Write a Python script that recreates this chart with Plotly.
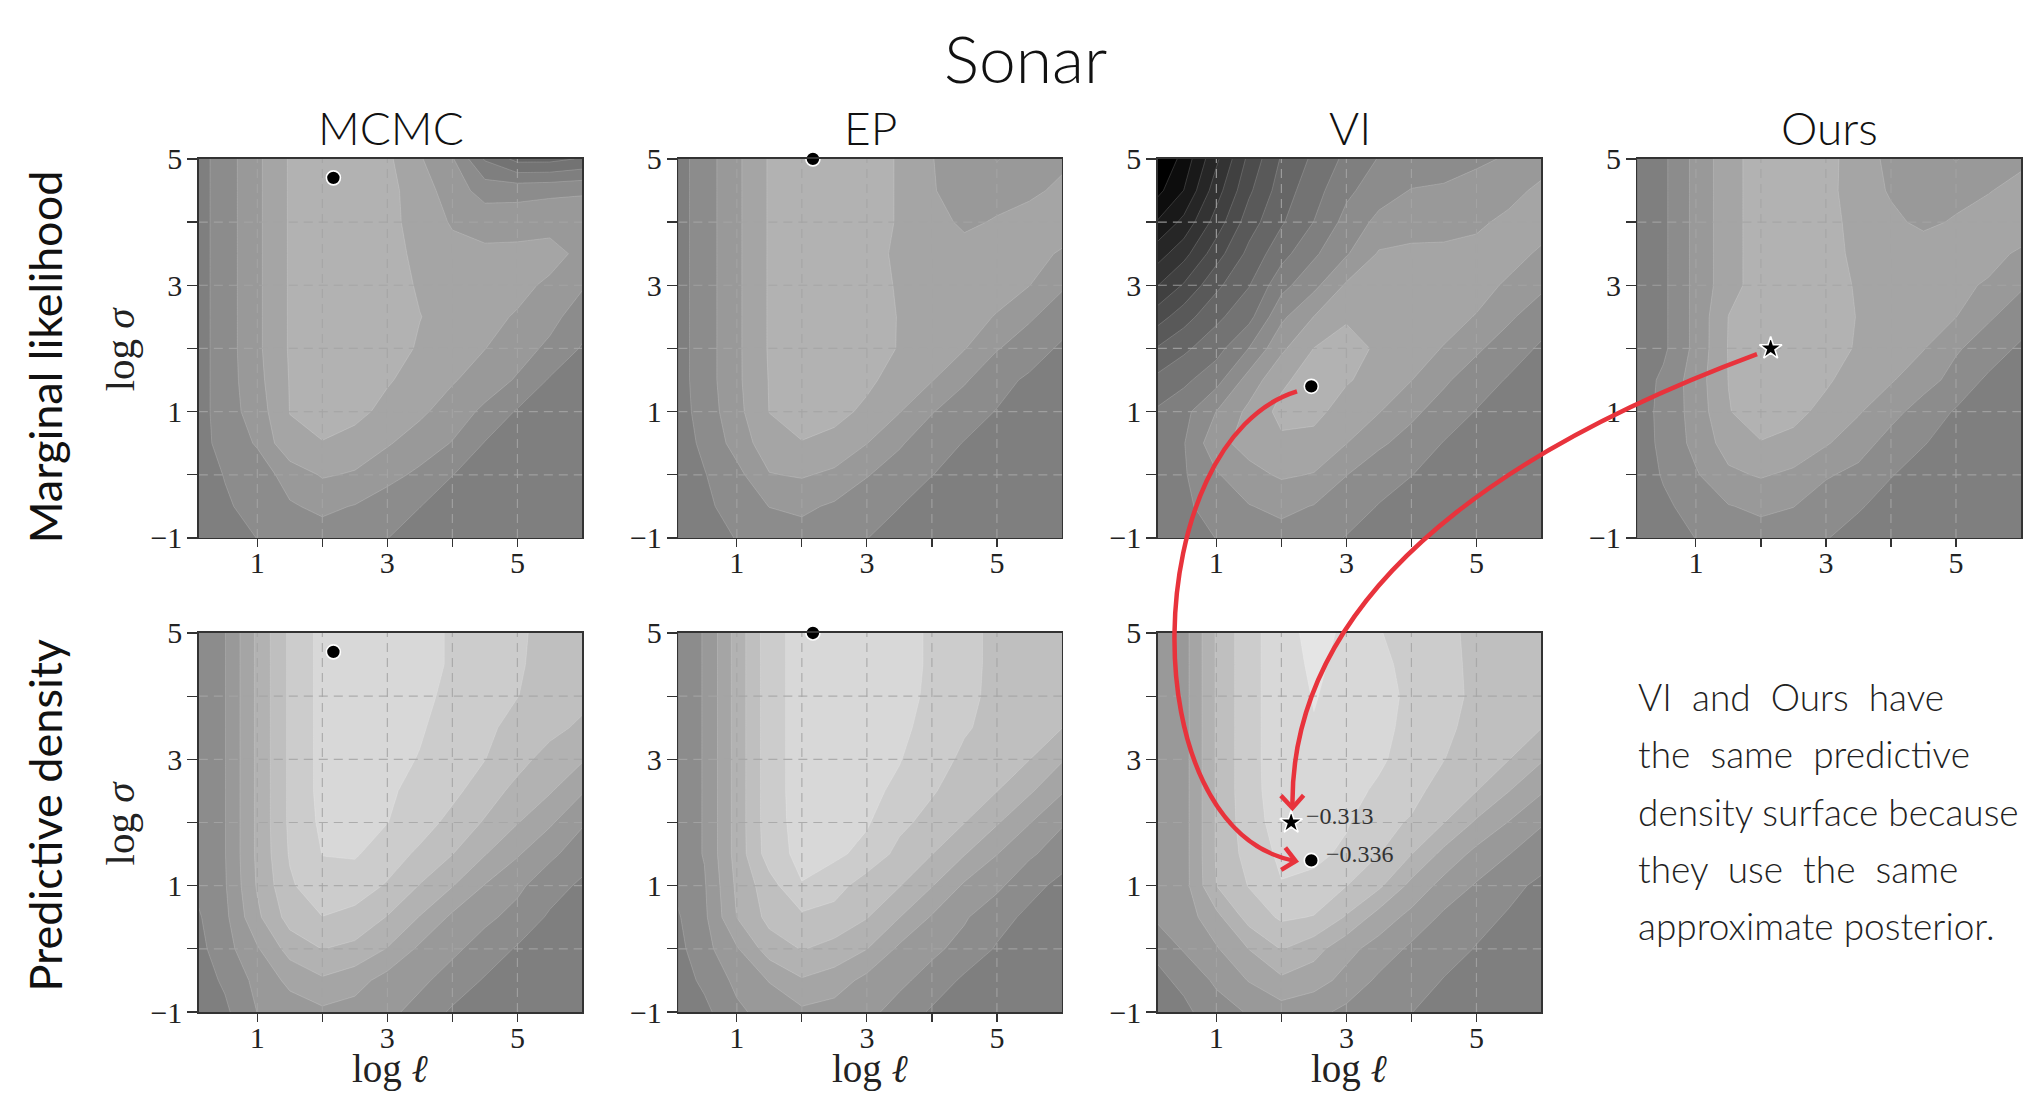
import math
import plotly.graph_objects as go

W, H = 2023, 1093

# ------------------------------------------------------------------ data
LOG_ELL = [0, 0.5, 1, 1.5, 2, 2.5, 3, 3.5, 4, 4.5, 5, 5.5, 6]
LOG_SIGMA = [-1, -0.5, 0, 0.5, 1, 1.5, 2, 2.5, 3, 3.5, 4, 4.5, 5]

# surfaces (contour level index), rows listed from log sigma = 5 (top) down to -1
MCMC_ML = [
    [9.9, 11.0, 12.3, 13.6, 14.2, 14.2, 13.7, 12.6, 11.6, 9.4, 8.2, 8.2, 8.6],
    [9.9, 11.0, 12.3, 13.6, 14.2, 14.2, 13.8, 13.0, 12.0, 11.1, 11.2, 11.3, 11.4],
    [9.9, 11.0, 12.3, 13.6, 14.2, 14.2, 13.8, 13.1, 12.4, 12.1, 12.0, 12.1, 12.0],
    [9.9, 11.0, 12.3, 13.6, 14.2, 14.2, 13.8, 13.3, 12.8, 12.7, 12.8, 12.9, 12.2],
    [9.9, 11.0, 12.3, 13.6, 14.2, 14.2, 13.9, 13.4, 13.2, 13.0, 12.8, 12.3, 11.6],
    [9.9, 11.0, 12.3, 13.6, 14.2, 14.2, 14.0, 13.52, 13.2, 12.8, 12.4, 11.8, 11.0],
    [9.9, 11.0, 12.3, 13.6, 14.2, 14.1, 13.9, 13.4, 12.9, 12.52, 11.9, 11.3, 10.4],
    [9.9, 11.0, 12.2, 13.55, 14.1, 14.0, 13.6, 13.1, 12.6, 12.0, 11.4, 10.4, 9.8],
    [9.9, 11.0, 12.0, 13.52, 14.0, 13.8, 13.2, 12.7, 12.0, 11.3, 10.4, 9.8, 9.7],
    [9.9, 10.9, 11.6, 13.3, 13.45, 13.1, 12.6, 12.0, 11.45, 10.45, 9.8, 9.7, 9.6],
    [9.8, 10.55, 11.0, 11.9, 12.6, 12.4, 11.8, 11.3, 10.52, 10.0, 9.8, 9.7, 9.6],
    [9.7, 10.35, 10.9, 11.4, 11.7, 11.45, 11.0, 10.52, 10.0, 9.8, 9.7, 9.6, 9.6],
    [9.6, 10.0, 10.52, 10.9, 11.1, 10.9, 10.52, 10.0, 9.8, 9.7, 9.6, 9.6, 9.6],
]
EP_ML = [
    [9.9, 11.0, 12.3, 13.6, 14.2, 14.2, 14.0, 13.4, 12.52, 12.2, 11.45, 12.0, 12.3],
    [9.9, 11.0, 12.3, 13.6, 14.2, 14.2, 14.0, 13.4, 12.55, 12.2, 12.1, 12.3, 12.7],
    [9.9, 11.0, 12.3, 13.6, 14.2, 14.2, 14.0, 13.4, 12.9, 12.3, 12.6, 12.9, 13.0],
    [9.9, 11.0, 12.3, 13.6, 14.2, 14.2, 13.9, 13.3, 13.1, 12.9, 12.9, 12.8, 12.4],
    [9.9, 11.0, 12.3, 13.6, 14.2, 14.2, 13.9, 13.4, 13.2, 13.0, 12.8, 12.52, 11.6],
    [9.9, 11.0, 12.3, 13.6, 14.2, 14.2, 14.0, 13.45, 13.1, 12.8, 12.45, 11.6, 11.1],
    [9.9, 11.0, 12.3, 13.6, 14.2, 14.1, 13.9, 13.45, 13.0, 12.55, 11.55, 11.1, 10.3],
    [9.9, 11.0, 12.3, 13.55, 14.1, 14.0, 13.7, 13.1, 12.55, 11.6, 10.9, 10.3, 9.9],
    [9.9, 10.9, 12.2, 13.52, 14.0, 13.8, 13.3, 12.55, 11.55, 11.0, 10.45, 10.0, 9.8],
    [9.9, 10.7, 11.9, 13.1, 13.45, 13.2, 12.52, 11.6, 11.0, 10.45, 10.0, 9.8, 9.7],
    [9.8, 10.45, 11.2, 12.45, 12.6, 12.3, 11.55, 11.1, 10.52, 10.1, 9.8, 9.7, 9.6],
    [9.7, 10.3, 10.9, 11.52, 11.7, 11.35, 11.0, 10.52, 10.0, 9.8, 9.7, 9.6, 9.6],
    [9.6, 10.0, 10.55, 10.9, 11.1, 10.9, 10.52, 10.1, 9.8, 9.7, 9.6, 9.6, 9.6],
]
VI_ML = [
    [-1.0, 0.89, 3.3, 5.76, 7.6, 8.7, 9.74, 10.56, 10.82, 11.07, 11.33, 11.6, 12.1],
    [-0.1, 1.52, 4.06, 6.31, 7.99, 9.1, 10.28, 11.04, 11.55, 11.63, 11.87, 12.22, 12.7],
    [1.3, 2.79, 4.94, 7.03, 8.38, 9.52, 10.84, 11.78, 12.1, 12.16, 12.35, 12.7, 12.9],
    [2.8, 4.15, 6.06, 7.78, 9.14, 10.33, 11.4, 12.6, 12.7, 12.7, 12.75, 12.85, 12.35],
    [4.2, 5.61, 7.27, 8.45, 10.17, 11.23, 12.64, 13.1, 13.0, 12.9, 12.85, 12.35, 11.7],
    [5.8, 7.08, 8.27, 9.19, 11.28, 12.52, 13.35, 13.3, 13.0, 12.85, 12.45, 11.65, 10.95],
    [7.4, 8.3, 9.13, 10.52, 12.3, 13.52, 14.0, 13.3, 12.9, 12.45, 11.65, 11.0, 10.35],
    [8.6, 9.27, 10.15, 11.92, 13.3, 14.0, 13.6, 13.1, 12.52, 11.65, 11.0, 10.4, 9.95],
    [9.52, 10.2, 11.52, 12.75, 13.8, 13.8, 13.05, 12.55, 11.7, 11.1, 10.45, 10.0, 9.8],
    [9.9, 10.45, 12.2, 12.85, 13.3, 13.15, 12.52, 11.65, 11.15, 10.45, 10.05, 9.85, 9.7],
    [9.9, 10.4, 11.4, 12.2, 12.63, 12.45, 11.52, 10.95, 10.52, 10.1, 9.9, 9.75, 9.65],
    [9.9, 10.3, 10.95, 11.45, 11.77, 11.45, 11.0, 10.45, 10.1, 9.9, 9.8, 9.7, 9.6],
    [9.8, 10.1, 10.52, 10.9, 11.1, 10.9, 10.45, 10.1, 9.9, 9.8, 9.7, 9.65, 9.6],
]
OURS_ML = [
    [9.9, 10.3, 11.8, 13.1, 14.0, 14.2, 13.9, 12.9, 12.3, 12.0, 11.45, 12.0, 12.3],
    [9.9, 10.3, 11.8, 13.1, 14.0, 14.2, 13.8, 13.0, 12.4, 12.1, 12.2, 12.45, 12.8],
    [9.9, 10.3, 11.8, 13.1, 14.0, 14.2, 13.8, 13.2, 12.7, 12.3, 12.6, 12.9, 13.1],
    [9.9, 10.3, 11.8, 13.1, 14.0, 14.2, 13.8, 13.3, 13.1, 13.0, 12.9, 12.8, 12.35],
    [9.9, 10.3, 11.8, 13.1, 14.0, 14.2, 13.9, 13.4, 13.2, 13.0, 12.7, 12.4, 11.6],
    [9.9, 10.3, 11.8, 13.52, 14.1, 14.2, 14.0, 13.45, 13.1, 12.8, 12.52, 11.6, 11.1],
    [9.9, 10.3, 11.8, 13.55, 14.1, 14.1, 13.9, 13.4, 12.9, 12.55, 11.6, 11.1, 10.3],
    [9.8, 10.7, 12.0, 13.52, 14.1, 14.0, 13.65, 13.0, 12.6, 11.85, 11.2, 10.3, 9.9],
    [9.8, 10.8, 11.9, 13.45, 14.0, 13.8, 13.2, 12.6, 11.8, 11.1, 10.4, 10.0, 9.8],
    [9.8, 10.75, 11.8, 12.95, 13.45, 13.2, 12.6, 11.9, 11.15, 10.55, 10.1, 9.8, 9.7],
    [9.7, 10.6, 11.4, 12.3, 12.6, 12.3, 11.6, 11.25, 10.55, 10.1, 9.8, 9.7, 9.6],
    [9.6, 10.3, 10.9, 11.45, 11.7, 11.52, 11.0, 10.6, 10.1, 9.8, 9.7, 9.6, 9.6],
    [9.6, 10.0, 10.52, 10.9, 11.1, 10.9, 10.55, 10.1, 9.8, 9.7, 9.6, 9.6, 9.6],
]
MCMC_PD = [
    [10.9, 11.45, 13.7, 15.7, 16.8, 17.0, 17.0, 16.8, 16.4, 16.0, 15.6, 15.3, 15.2],
    [10.9, 11.45, 13.7, 15.7, 16.8, 17.0, 17.0, 16.8, 16.4, 16.0, 15.6, 15.2, 15.0],
    [10.9, 11.45, 13.7, 15.7, 16.8, 17.0, 16.95, 16.7, 16.3, 15.9, 15.52, 15.1, 14.8],
    [10.9, 11.45, 13.7, 15.7, 16.8, 17.0, 16.9, 16.6, 16.1, 15.7, 15.2, 14.8, 14.3],
    [10.9, 11.45, 13.7, 15.7, 16.8, 17.0, 16.8, 16.45, 16.0, 15.52, 14.85, 14.1, 13.6],
    [10.9, 11.45, 13.7, 15.7, 16.8, 16.95, 16.65, 16.2, 15.75, 15.0, 14.2, 13.6, 12.6],
    [10.9, 11.45, 13.7, 15.7, 16.7, 16.85, 16.52, 15.95, 15.2, 14.4, 13.55, 12.65, 11.6],
    [10.9, 11.45, 13.7, 15.6, 16.52, 16.6, 16.0, 15.3, 14.52, 13.55, 12.6, 11.7, 11.0],
    [10.52, 11.4, 13.6, 15.35, 16.2, 16.0, 15.4, 14.45, 13.55, 12.45, 11.7, 10.95, 10.3],
    [10.2, 11.25, 13.3, 14.9, 15.48, 15.2, 14.45, 13.45, 12.3, 11.7, 11.2, 10.35, 9.9],
    [10.0, 11.1, 12.4, 13.9, 14.52, 14.25, 13.45, 12.3, 11.7, 11.1, 10.4, 10.0, 9.8],
    [9.9, 10.65, 11.8, 12.75, 13.35, 12.9, 12.1, 11.7, 11.1, 10.4, 10.0, 9.8, 9.7],
    [9.7, 10.3, 11.52, 12.0, 12.3, 12.1, 11.75, 11.15, 10.35, 9.9, 9.7, 9.6, 9.6],
]
EP_PD = [
    [10.9, 11.55, 13.9, 16.1, 16.9, 17.0, 17.0, 16.9, 16.35, 15.75, 15.3, 15.2, 15.1],
    [10.9, 11.55, 13.9, 16.1, 16.9, 17.0, 17.0, 16.9, 16.35, 15.75, 15.3, 15.15, 15.05],
    [10.9, 11.55, 13.9, 16.1, 16.9, 17.0, 16.95, 16.85, 16.3, 15.75, 15.25, 15.0, 14.8],
    [10.9, 11.55, 13.9, 16.1, 16.9, 17.0, 16.9, 16.7, 16.2, 15.6, 15.2, 14.85, 14.52],
    [10.9, 11.55, 13.9, 16.1, 16.9, 17.0, 16.85, 16.55, 15.95, 15.3, 14.85, 14.52, 13.6],
    [10.9, 11.55, 13.9, 16.1, 16.9, 16.95, 16.75, 16.3, 15.6, 15.0, 14.52, 13.65, 12.6],
    [10.9, 11.55, 13.9, 16.1, 16.85, 16.85, 16.6, 15.75, 15.15, 14.52, 13.6, 12.55, 11.6],
    [10.9, 11.55, 13.9, 16.0, 16.8, 16.7, 16.2, 15.2, 14.52, 13.55, 12.52, 11.65, 11.0],
    [10.52, 11.4, 13.7, 15.1, 16.45, 15.9, 15.0, 14.55, 13.55, 12.35, 11.7, 10.85, 10.2],
    [10.2, 11.3, 13.52, 14.8, 15.3, 15.1, 14.55, 13.52, 12.4, 11.6, 10.9, 10.25, 9.9],
    [10.0, 11.15, 12.4, 14.0, 14.55, 14.2, 13.52, 12.3, 11.7, 11.2, 10.4, 10.0, 9.8],
    [9.9, 10.7, 11.75, 12.55, 13.4, 13.0, 12.2, 11.7, 11.15, 10.3, 9.95, 9.8, 9.7],
    [9.7, 10.25, 11.3, 11.9, 12.3, 12.1, 11.75, 11.15, 10.35, 9.9, 9.7, 9.6, 9.6],
]
VI_PD = [
    [11.9, 12.1, 14.6, 16.2, 17.0, 17.9, 17.3, 16.55, 16.15, 15.65, 15.35, 15.2, 15.1],
    [11.9, 12.1, 14.6, 16.2, 17.0, 17.7, 17.2, 16.75, 16.2, 15.7, 15.35, 15.2, 15.1],
    [11.9, 12.1, 14.6, 16.2, 17.0, 17.55, 17.2, 16.85, 16.3, 15.75, 15.35, 15.2, 15.1],
    [11.9, 12.1, 14.6, 16.2, 17.0, 17.45, 17.2, 16.8, 16.2, 15.7, 15.2, 14.85, 14.52],
    [11.9, 12.1, 14.6, 16.2, 17.0, 17.2, 17.0, 16.65, 16.1, 15.52, 15.0, 14.52, 13.6],
    [11.9, 12.1, 14.6, 16.2, 16.95, 17.1, 16.8, 16.35, 15.8, 15.1, 14.52, 13.52, 12.6],
    [11.9, 12.1, 14.6, 16.1, 16.9, 16.95, 16.6, 15.8, 15.4, 14.52, 13.35, 12.45, 11.6],
    [11.9, 12.1, 14.6, 15.9, 16.7, 16.75, 16.3, 15.52, 14.52, 13.2, 12.2, 11.52, 10.9],
    [11.7, 12.1, 14.5, 15.55, 16.45, 16.2, 15.52, 14.7, 13.2, 12.15, 11.4, 10.75, 10.3],
    [11.5, 11.95, 13.2, 14.9, 15.65, 15.45, 14.4, 13.05, 12.2, 11.3, 10.8, 10.4, 10.0],
    [10.6, 11.6, 12.4, 13.52, 14.55, 13.9, 12.8, 12.1, 11.3, 10.9, 10.45, 10.1, 9.8],
    [10.2, 10.7, 11.7, 12.55, 13.3, 12.9, 12.2, 11.3, 11.0, 10.45, 10.0, 9.8, 9.7],
    [9.8, 10.3, 11.0, 11.6, 12.05, 11.8, 11.25, 10.8, 10.52, 10.1, 9.8, 9.7, 9.6],
]

METHODS = ["MCMC", "EP", "VI", "Ours"]
ROW_NAMES = ["Marginal likelihood", "Predictive density"]

# optimum hyperparameters (log ell, log sigma)
MCMC_OPT = (2.17, 4.70)
EP_OPT = (2.17, 5.00)
VI_OPT = (2.46, 1.40)
OURS_OPT = (2.15, 2.00)
PD_AT_OURS = "\u22120.313"
PD_AT_VI = "\u22120.336"

X_TICKS = [1, 2, 3, 4, 5]
X_TICKTEXT = ["1", "", "3", "", "5"]
Y_TICKS = [-1, 0, 1, 2, 3, 4, 5]
Y_TICKTEXT = ["\u22121", "", "1", "", "3", "", "5"]
X_RANGE = [0.1, 6.0]
Y_RANGE = [-1, 5]

NOTE_LINES = [
    "VI\u00a0\u00a0and\u00a0\u00a0Ours\u00a0\u00a0have",
    "the\u00a0\u00a0same\u00a0\u00a0predictive",
    "density surface because",
    "they\u00a0\u00a0use\u00a0\u00a0the\u00a0\u00a0same",
    "approximate posterior.",
]

# ------------------------------------------------------------------ layout geometry (screen px)
COL_LEFT = [199, 679, 1159, 1639]
ROW_TOP = [156, 635]
PW, PH = 384, 383

# the page capture maps layout y to screen y as  Y = Y_OFF + Y_SCALE * y
Y_OFF, Y_SCALE = 12.6, 0.979

RED = "#e8333c"
GRID = "rgba(165,165,165,0.85)"
SERIF = "Liberation Serif, DejaVu Serif, serif"
SANS = "Lato, Open Sans, sans-serif"

# band k -> gray 229*k/18 (bands 0..18)
GRAYSCALE = [[0.0, "rgb(0,0,0)"], [1.0, "rgb(229,229,229)"]]

panels = [
    (MCMC_ML, 0, 0, MCMC_OPT, "circle"),
    (EP_ML, 1, 0, EP_OPT, "circle"),
    (VI_ML, 2, 0, VI_OPT, "circle"),
    (OURS_ML, 3, 0, OURS_OPT, "star"),
    (MCMC_PD, 0, 1, MCMC_OPT, "circle"),
    (EP_PD, 1, 1, EP_OPT, "circle"),
    (VI_PD, 2, 1, None, None),
]


def py(Y):
    """paper y for a screen y"""
    return 1 - ((Y - Y_OFF) / Y_SCALE) / H


def pp(X, Y):
    return X / W, py(Y)


def data2screen(col, row, x, y):
    X = COL_LEFT[col] + (x - X_RANGE[0]) / (X_RANGE[1] - X_RANGE[0]) * PW
    Y = ROW_TOP[row] + (Y_RANGE[1] - y) / (Y_RANGE[1] - Y_RANGE[0]) * PH
    return X, Y


fig = go.Figure()
layout = {}
annotations = []

for i, (field, c, r, opt, sym) in enumerate(panels, start=1):
    xr = "x" if i == 1 else f"x{i}"
    yr = "y" if i == 1 else f"y{i}"
    fig.add_trace(go.Contour(
        x=LOG_ELL, y=LOG_SIGMA, z=field[::-1],
        contours=dict(start=0.5, end=17.5, size=1, coloring="fill"),
        colorscale=GRAYSCALE, showscale=False,
        line=dict(width=0.6, color="rgba(255,255,255,0.28)", smoothing=0),
        hoverinfo="skip", xaxis=xr, yaxis=yr,
    ))
    # dashed grid drawn above the filled contours
    gx, gy = [], []
    for v in X_TICKS:
        gx += [v, v, None]
        gy += [Y_RANGE[0], Y_RANGE[1], None]
    for v in Y_TICKS[1:-1]:
        gx += [X_RANGE[0], X_RANGE[1], None]
        gy += [v, v, None]
    fig.add_trace(go.Scatter(
        x=gx, y=gy, mode="lines", hoverinfo="skip", showlegend=False,
        line=dict(color=GRID, width=1.2, dash="9px,6px"),
        xaxis=xr, yaxis=yr,
    ))
    if opt is not None:
        fig.add_trace(go.Scatter(
            x=[opt[0]], y=[opt[1]], mode="markers", showlegend=False, hoverinfo="skip",
            cliponaxis=False,
            marker=dict(symbol=sym, size=14 if sym == "circle" else 17, color="black",
                        line=dict(color="white", width=1.6)),
            xaxis=xr, yaxis=yr,
        ))
    x0p, x1p = COL_LEFT[c] / W, min(1.0, (COL_LEFT[c] + PW) / W)
    y1p, y0p = py(ROW_TOP[r]), py(ROW_TOP[r] + PH)
    axis_common = dict(
        showline=True, mirror=True, linecolor="#333", linewidth=1.5,
        ticks="outside", tickwidth=1.2, tickcolor="#333",
        showgrid=False, zeroline=False, fixedrange=True,
        tickfont=dict(family=SERIF, size=30, color="#222"),
    )
    layout["xaxis" if i == 1 else f"xaxis{i}"] = dict(
        axis_common, domain=[x0p, x1p], range=X_RANGE, anchor=yr, ticklen=8,
        ticklabelstandoff=-10,
        tickmode="array", tickvals=X_TICKS, ticktext=X_TICKTEXT,
    )
    layout["yaxis" if i == 1 else f"yaxis{i}"] = dict(
        axis_common, domain=[y0p, y1p], range=Y_RANGE, anchor=xr, ticklen=10,
        ticklabelstandoff=-1,
        tickmode="array", tickvals=Y_TICKS, ticktext=Y_TICKTEXT,
    )

# VI predictive-density panel: both optima with their values
vi_pd_x, vi_pd_y = "x7", "y7"
fig.add_trace(go.Scatter(
    x=[OURS_OPT[0]], y=[OURS_OPT[1]], mode="markers", showlegend=False, hoverinfo="skip",
    marker=dict(symbol="star", size=17, color="black", line=dict(color="white", width=1.6)),
    xaxis=vi_pd_x, yaxis=vi_pd_y,
))
fig.add_trace(go.Scatter(
    x=[VI_OPT[0]], y=[VI_OPT[1]], mode="markers", showlegend=False, hoverinfo="skip",
    marker=dict(symbol="circle", size=14, color="black", line=dict(color="white", width=1.6)),
    xaxis=vi_pd_x, yaxis=vi_pd_y,
))
annotations.append(dict(x=OURS_OPT[0] + 0.2, y=OURS_OPT[1] + 0.1, xref=vi_pd_x, yref=vi_pd_y,
                        text=PD_AT_OURS, showarrow=False, xanchor="left", yanchor="middle",
                        font=dict(family=SERIF, size=24, color="#333")))
annotations.append(dict(x=VI_OPT[0] + 0.2, y=VI_OPT[1] + 0.1, xref=vi_pd_x, yref=vi_pd_y,
                        text=PD_AT_VI, showarrow=False, xanchor="left", yanchor="middle",
                        font=dict(family=SERIF, size=24, color="#333")))

# ------------------------------------------------------------------ texts
annotations.append(dict(x=1027 / W, y=py(54), xref="paper", yref="paper", text="Sonar",
                        showarrow=False, xanchor="center", yanchor="middle",
                        font=dict(family=SANS, size=66, color="#111", weight=300)))
for c, name in enumerate(METHODS):
    annotations.append(dict(x=(COL_LEFT[c] + PW / 2) / W, y=py(124), xref="paper", yref="paper",
                            text=name, showarrow=False, xanchor="center", yanchor="middle",
                            font=dict(family=SANS, size=46, color="#111", weight=300)))
for r, name in enumerate(ROW_NAMES):
    cy = ROW_TOP[r] + PH / 2 + (8 if r == 0 else -8)
    annotations.append(dict(x=45 / W, y=py(cy), xref="paper", yref="paper",
                            text=name, showarrow=False, textangle=-90,
                            xanchor="center", yanchor="middle",
                            font=dict(family=SANS, size=45, color="#111")))
    annotations.append(dict(x=121 / W, y=py(ROW_TOP[r] + PH / 2), xref="paper", yref="paper",
                            text="log <i>\u03c3</i>", showarrow=False, textangle=-90,
                            xanchor="center", yanchor="middle",
                            font=dict(family=SERIF, size=41, color="#222")))
for c in range(3):
    annotations.append(dict(x=(COL_LEFT[c] + PW / 2) / W, y=py(1076), xref="paper", yref="paper",
                            text="log <i>\u2113</i>", showarrow=False,
                            xanchor="center", yanchor="middle",
                            font=dict(family=SERIF, size=39, color="#222")))
for k, line in enumerate(NOTE_LINES):
    annotations.append(dict(x=1638 / W, y=py(699 + 58 * k), xref="paper", yref="paper",
                            text=line, showarrow=False, xanchor="left", yanchor="middle",
                            font=dict(family=SANS, size=37, color="#222", weight=300)))

# ------------------------------------------------------------------ red arrows
shapes = []


def bezier_arrow(p0, p1, p2, p3):
    pts = [pp(*p) for p in (p0, p1, p2, p3)]
    path = "M {:.5f},{:.5f} C {:.5f},{:.5f} {:.5f},{:.5f} {:.5f},{:.5f}".format(
        *pts[0], *pts[1], *pts[2], *pts[3])
    shapes.append(dict(type="path", xref="paper", yref="paper", path=path, layer="above",
                       line=dict(color=RED, width=4.5)))
    dx, dy = p3[0] - p2[0], p3[1] - p2[1]
    n = math.hypot(dx, dy)
    dx, dy = dx / n, dy / n
    L, ang = 17, math.radians(42)
    arms = []
    for s in (1, -1):
        ca, sa = math.cos(s * ang), math.sin(s * ang)
        rx, ry = dx * ca - dy * sa, dx * sa + dy * ca
        arms.append((p3[0] - L * rx, p3[1] - L * ry))
    a1, tip, a2 = pp(*arms[0]), pp(*p3), pp(*arms[1])
    shapes.append(dict(type="path", xref="paper", yref="paper", layer="above",
                       path="M {:.5f},{:.5f} L {:.5f},{:.5f} L {:.5f},{:.5f}".format(*a1, *tip, *a2),
                       line=dict(color=RED, width=4.5)))


# VI (marginal likelihood optimum) -> VI predictive density
a_start = data2screen(2, 0, VI_OPT[0] - 0.22, VI_OPT[1] - 0.08)
a_end = data2screen(2, 1, VI_OPT[0] - 0.24, VI_OPT[1] - 0.01)
bezier_arrow(a_start, (1140, 440), (1130, 835), a_end)
# Ours optimum -> VI predictive density (star)
b_start = data2screen(3, 0, OURS_OPT[0] - 0.21, OURS_OPT[1] - 0.09)
b_end = data2screen(2, 1, OURS_OPT[0] + 0.02, OURS_OPT[1] + 0.23)
bezier_arrow(b_start, (1580, 420), (1290, 560), b_end)

fig.update_layout(
    width=W, height=H, margin=dict(l=0, r=0, t=0, b=0), autosize=False,
    paper_bgcolor="white", plot_bgcolor="white",
    showlegend=False, annotations=annotations, shapes=shapes,
    **layout,
)

# pin the figure to the window's top-left corner (no page margins / scrollbars)
PIN = ("document.documentElement.style.margin='0';document.body.style.margin='0';"
       "document.body.style.overflow='hidden';document.documentElement.style.overflow='hidden';"
       "var d=document.getElementById('{plot_id}');d.style.position='fixed';"
       "d.style.left='0px';d.style.top='0px';")
fig.write_html("out.html", post_script=PIN,
               config={"responsive": False, "displayModeBar": False, "staticPlot": True})
